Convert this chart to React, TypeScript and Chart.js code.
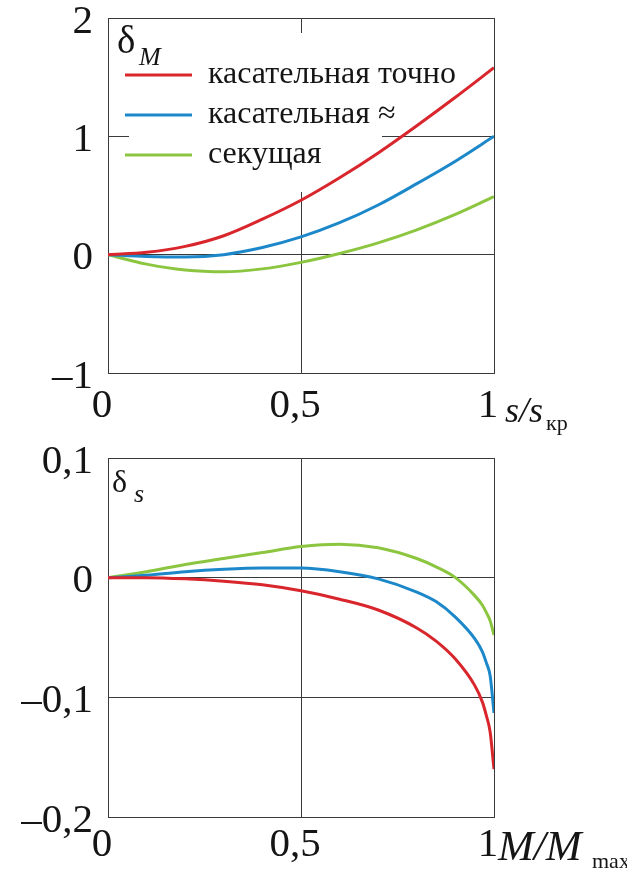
import React, { useEffect, useRef } from 'react';
import { Chart, registerables } from 'chart.js';

Chart.register(...registerables);

const FONT = "'Liberation Serif', 'Times New Roman', serif";
const GRID = '#3a3a3a';
const INK = '#151515';

const seriesNames = ['касательная точно', 'касательная ≈', 'секущая'];
const seriesColors = ['#d8262c', '#1c88ca', '#8cc640'];

// Top chart: δM versus s/sкр
const sRatio = [0, 0.1, 0.2, 0.3, 0.4, 0.5, 0.6, 0.7, 0.8, 0.9, 1];
const deltaMTangentExact = [0, 0.02, 0.07, 0.16, 0.3, 0.46, 0.65, 0.86, 1.09, 1.33, 1.58];
const deltaMTangentApprox = [0, -0.015, -0.02, 0.0, 0.06, 0.15, 0.27, 0.42, 0.6, 0.79, 1.0];
const deltaMSecant = [0, -0.08, -0.13, -0.145, -0.12, -0.065, 0.01, 0.1, 0.21, 0.34, 0.49];

// Bottom chart: δs versus M/Mmax
const mRatio = [0, 0.1, 0.2, 0.3, 0.4, 0.5, 0.6, 0.7, 0.8, 0.85, 0.9, 0.95, 0.97, 0.98, 0.99, 1];
const deltaSTangentExact = [0, 0, -0.001, -0.003, -0.006, -0.011, -0.018, -0.027, -0.042, -0.053, -0.068, -0.09, -0.104, -0.115, -0.129, -0.16];
const deltaSTangentApprox = [0, 0.002, 0.005, 0.007, 0.008, 0.008, 0.005, -0.001, -0.012, -0.02, -0.033, -0.051, -0.062, -0.071, -0.082, -0.113];
const deltaSSecant = [0, 0.005, 0.011, 0.016, 0.021, 0.026, 0.028, 0.025, 0.016, 0.009, 0.0, -0.015, -0.023, -0.029, -0.036, -0.048];

const xTickValues = [0, 0.5, 1];
const xTickLabels = ['0', '0,5', '1'];
const yTopTickValues = [-1, 0, 1, 2];
const yTopTickLabels = ['–1', '0', '1', '2'];
const yBottomTickValues = [-0.2, -0.1, 0, 0.1];
const yBottomTickLabels = ['–0,2', '–0,1', '0', '0,1'];

type TextItem = { text: string; x: number; y: number; size: number; italic?: boolean };

function textPlugin(items: TextItem[]) {
  return {
    id: 'freeTexts',
    afterDraw(chart: any) {
      const ctx = chart.ctx;
      ctx.save();
      ctx.fillStyle = INK;
      ctx.textAlign = 'left';
      ctx.textBaseline = 'alphabetic';
      items.forEach((t) => {
        ctx.font = `${t.italic ? 'italic ' : ''}${t.size}px ${FONT}`;
        ctx.fillText(t.text, t.x, t.y);
      });
      ctx.restore();
    },
  };
}

const legendPlugin = {
  id: 'legendInside',
  afterLayout(chart: any) {
    const lg = chart.legend;
    if (!lg) return;
    const ca = chart.chartArea;
    lg.left = ca.left + 9;
    lg.top = ca.top + 33;
    lg.right = ca.right;
    lg.bottom = ca.bottom;
    lg.width = lg.right - lg.left;
    lg.height = lg.bottom - lg.top;
    if (!lg.__origDraw) {
      lg.__origDraw = lg.draw.bind(lg);
      lg.draw = () => {};
    }
  },
  beforeDatasetsDraw(chart: any) {
    const ca = chart.chartArea;
    const ctx = chart.ctx;
    ctx.save();
    ctx.fillStyle = '#ffffff';
    ctx.fillRect(ca.left + 21, ca.top + 15, 253, 159);
    ctx.restore();
  },
  afterDatasetsDraw(chart: any) {
    const lg = chart.legend;
    if (lg && lg.__origDraw) lg.__origDraw(chart.chartArea);
  },
};

function buildConfig(p: {
  xs: number[];
  ys: number[][];
  yMin: number;
  yMax: number;
  yTicks: number[];
  yLabels: string[];
  xAxisHeight: number;
  xTickPad: number;
  showLegend: boolean;
  texts: TextItem[];
}): any {
  const datasets = p.ys.map((vals, i) => ({
    label: seriesNames[i],
    data: p.xs.map((x, j) => ({ x, y: vals[j] })),
    borderColor: seriesColors[i],
    backgroundColor: seriesColors[i],
    borderWidth: 3,
    pointRadius: 0,
    fill: false,
    cubicInterpolationMode: 'monotone',
  }));
  const tickFont = { family: FONT, size: 41, lineHeight: 1.2 };
  const plugins: any[] = [textPlugin(p.texts)];
  if (p.showLegend) plugins.push(legendPlugin);
  return {
    type: 'line',
    data: { datasets },
    plugins,
    options: {
      animation: false,
      responsive: false,
      events: [],
      layout: { padding: { left: 0, top: 18, right: 133, bottom: 0 } },
      scales: {
        x: {
          type: 'linear',
          min: 0,
          max: 1,
          afterBuildTicks: (s: any) => {
            s.ticks = xTickValues.map((value) => ({ value }));
          },
          afterFit: (s: any) => {
            s.height = p.xAxisHeight;
            s.paddingLeft = 0;
            s.paddingRight = 0;
          },
          grid: { color: GRID, lineWidth: 1, drawTicks: false },
          border: { color: GRID, width: 1 },
          ticks: {
            color: INK,
            padding: p.xTickPad,
            labelOffset: -6,
            maxRotation: 0,
            autoSkip: false,
            font: tickFont,
            callback: (_v: any, i: number) => xTickLabels[i],
          },
        },
        y: {
          type: 'linear',
          min: p.yMin,
          max: p.yMax,
          afterBuildTicks: (s: any) => {
            s.ticks = p.yTicks.map((value) => ({ value }));
          },
          afterFit: (s: any) => {
            s.width = 108;
            s.paddingTop = 0;
            s.paddingBottom = 0;
          },
          grid: { color: GRID, lineWidth: 1, drawTicks: false },
          border: { color: GRID, width: 1 },
          ticks: {
            color: INK,
            padding: 15,
            labelOffset: 4,
            autoSkip: false,
            font: tickFont,
            callback: (_v: any, i: number) => p.yLabels[i],
          },
        },
      },
      plugins: {
        tooltip: { enabled: false },
        title: { display: false },
        legend: {
          display: p.showLegend,
          position: 'chartArea',
          align: 'start',
          labels: {
            boxWidth: 67,
            boxHeight: 3,
            padding: 8,
            color: INK,
            font: { family: FONT, size: 32 },
            generateLabels: (chart: any) =>
              chart.data.datasets.map((ds: any, i: number) => ({
                text: ds.label,
                fillStyle: ds.borderColor,
                strokeStyle: ds.borderColor,
                lineWidth: 0,
                hidden: false,
                datasetIndex: i,
                fontColor: INK,
              })),
          },
        },
      },
    },
  };
}

export default function App() {
  const topRef = useRef<HTMLCanvasElement>(null);
  const bottomRef = useRef<HTMLCanvasElement>(null);

  useEffect(() => {
    const topChart = new Chart(
      topRef.current as HTMLCanvasElement,
      buildConfig({
        xs: sRatio,
        ys: [deltaMTangentExact, deltaMTangentApprox, deltaMSecant],
        yMin: -1,
        yMax: 2,
        yTicks: yTopTickValues,
        yLabels: yTopTickLabels,
        xAxisHeight: 67,
        xTickPad: 9,
        showLegend: true,
        texts: [
          { text: 'δ', x: 117, y: 53, size: 39 },
          { text: 'M', x: 139, y: 65, size: 26, italic: true },
          { text: 's/s', x: 505, y: 422, size: 36, italic: true },
          { text: 'кр', x: 546, y: 430, size: 22 },
        ],
      })
    );
    const bottomChart = new Chart(
      bottomRef.current as HTMLCanvasElement,
      buildConfig({
        xs: mRatio,
        ys: [deltaSTangentExact, deltaSTangentApprox, deltaSSecant],
        yMin: -0.2,
        yMax: 0.1,
        yTicks: yBottomTickValues,
        yLabels: yBottomTickLabels,
        xAxisHeight: 63,
        xTickPad: 4,
        showLegend: false,
        texts: [
          { text: 'δ', x: 112, y: 52, size: 32 },
          { text: 's', x: 134, y: 62, size: 26, italic: true },
          { text: 'M/M', x: 498, y: 420, size: 43, italic: true },
          { text: 'max', x: 592, y: 428, size: 22 },
        ],
      })
    );
    return () => {
      topChart.destroy();
      bottomChart.destroy();
    };
  }, []);

  return (
    <div style={{ position: 'absolute', left: 0, top: 0, width: 627, height: 880, background: '#ffffff' }}>
      <canvas
        ref={topRef}
        width={627}
        height={440}
        style={{ position: 'absolute', left: 0, top: 0, width: 627, height: 440 }}
      />
      <canvas
        ref={bottomRef}
        width={627}
        height={440}
        style={{ position: 'absolute', left: 0, top: 440, width: 627, height: 440 }}
      />
    </div>
  );
}
